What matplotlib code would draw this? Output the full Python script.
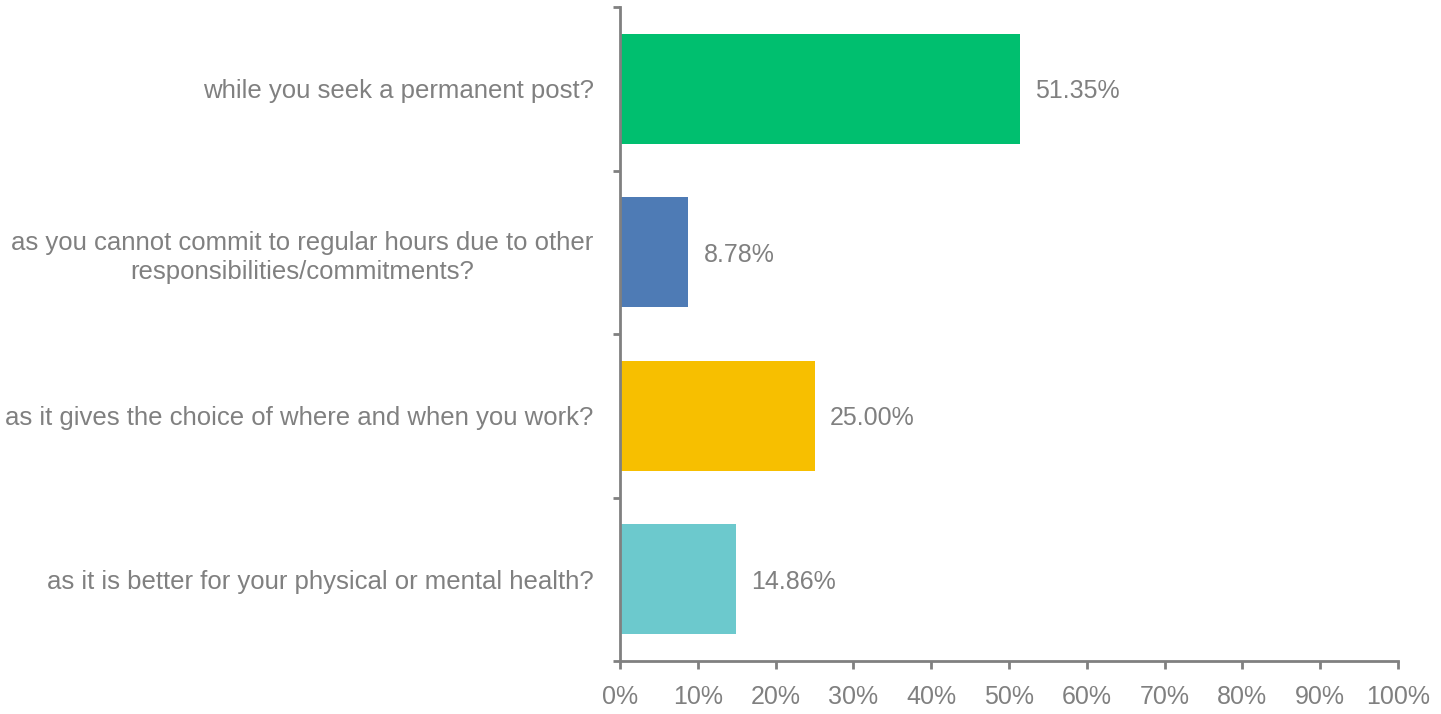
import matplotlib
matplotlib.use('Agg')
from matplotlib import pyplot as plt
from matplotlib.ticker import FuncFormatter

categories = [
    'while you seek a permanent post?',
    'as you cannot commit to regular hours due to other\nresponsibilities/commitments?',
    'as it gives the choice of where and when you work?',
    'as it is better for your physical or mental health?',
]
values = [51.35, 8.78, 25.00, 14.86]
colors = ['#00BF6F', '#4E7BB5', '#F7BF00', '#6CC9CD']
x_ticks = list(range(0, 101, 10))

grey = '#808080'
plt.rcParams['font.family'] = ['Liberation Sans', 'DejaVu Sans']

fig = plt.figure(figsize=(14.41, 7.14), dpi=100)
ax = fig.add_axes([620 / 1441, 1 - 661 / 714, 778 / 1441, 654 / 714])

pos = list(range(len(categories)))
ax.barh(pos, values, height=0.67, color=colors)
ax.set_ylim(len(categories) - 0.5, -0.5)
ax.set_xlim(0, 100)

fs = 18
for p, v in zip(pos, values):
    ax.text(v + 2, p, f'{v:.2f}%', va='center_baseline', ha='left', fontsize=fs, color=grey)

ax.set_xticks(x_ticks)
ax.xaxis.set_major_formatter(FuncFormatter(lambda x, pos: f'{int(x)}%'))
ax.set_yticks([p - 0.5 for p in pos] + [len(categories) - 0.5])
ax.set_yticklabels([])
ax.set_yticks(pos, minor=True)
ax.set_yticklabels(categories, minor=True)

for side in ['top', 'right']:
    ax.spines[side].set_visible(False)
for side in ['left', 'bottom']:
    ax.spines[side].set_color(grey)
    ax.spines[side].set_linewidth(2)

ax.tick_params(axis='x', which='major', length=6, width=2, color=grey,
               labelcolor=grey, labelsize=fs, pad=11)
ax.tick_params(axis='y', which='major', length=5, width=2, color=grey)
ax.tick_params(axis='y', which='minor', length=0, labelcolor=grey,
               labelsize=18.5, pad=19)
for lbl in ax.get_yticklabels(minor=True):
    lbl.set_horizontalalignment('right')
    lbl.set_multialignment('center')
    lbl.set_linespacing(1.3)

fig.savefig('out.png', dpi=100)
